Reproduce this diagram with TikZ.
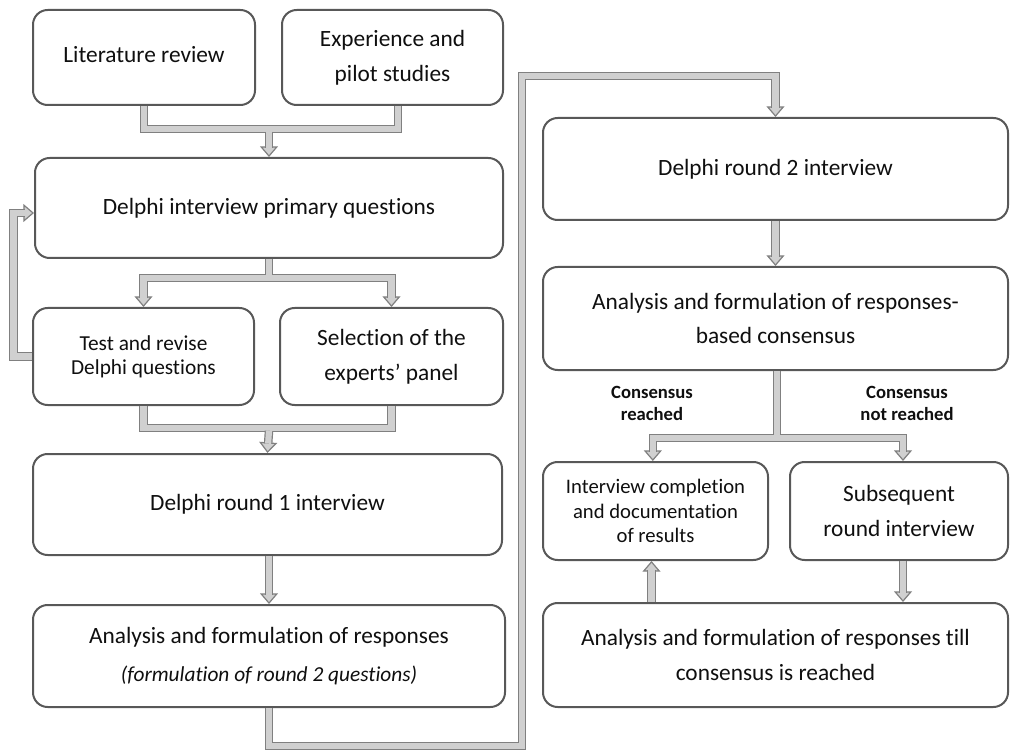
\documentclass[tikz,border=0pt]{standalone}
\usepackage{fontspec}
\setmainfont{Carlito}[Ligatures={NoCommon}]
\usetikzlibrary{arrows.meta,calc}
\definecolor{boxline}{RGB}{88,88,88}
\definecolor{connfill}{RGB}{208,208,208}
\definecolor{connline}{RGB}{128,128,128}
\definecolor{txt}{RGB}{15,15,15}
\newcommand{\flowarrow}[1]{\draw[headst] #1; \draw[conn,shorten >=7pt] #1;}
\begin{document}
\begin{tikzpicture}[x=0.75pt,y=-0.75pt,
  box/.style={draw=boxline,line width=1.5pt,rounded corners=11pt,fill=white,align=center,text=txt,inner sep=0pt,font=\fontsize{17.5}{26}\selectfont},
  conn/.style={draw=connline,line width=0.9pt,double=connfill,double distance=4.6pt,line join=miter},
  headst/.style={draw=connline,line width=0.9pt,-{Triangle[width=13.5pt,length=8pt,fill=connfill]}},
  lbl/.style={align=center,text=txt,font=\bfseries\fontsize{14}{16.5}\selectfont}]
\useasboundingbox (0,0) rectangle (1014,752);

% boxes
\node[box,minimum width=166.5pt,minimum height=71.25pt] (b1) at (144,57.5) {\raisebox{4pt}{Literature review}};
\node[box,minimum width=165.75pt,minimum height=71.25pt] (b2) at (392.5,57.5) {Experience and\\pilot studies};
\node[box,minimum width=351pt,minimum height=75pt] (b3) at (269,208) {Delphi interview primary questions};
\node[box,minimum width=165.75pt,minimum height=72.75pt,font=\fontsize{16}{18}\selectfont] (b4) at (143.5,356.5) {Test and revise\\Delphi questions};
\node[box,minimum width=167.25pt,minimum height=72.75pt] (b5) at (391.5,356.5) {Selection of the\\experts' panel};
\node[box,minimum width=351.75pt,minimum height=75.75pt] (b6) at (267.5,504.5) {Delphi round 1 interview};
\node[box,minimum width=354pt,minimum height=76.5pt] (b7) at (269,656) {Analysis and formulation of responses\\[2.5pt]{\itshape\fontsize{16}{20}\selectfont (formulation of round 2 questions)}};
\node[box,minimum width=348.75pt,minimum height=76.5pt] (b8) at (775.5,169) {Delphi round 2 interview};
\node[box,minimum width=348.75pt,minimum height=77.25pt] (b9) at (775.5,318.5) {Analysis and formulation of responses-\\based consensus};
\node[box,minimum width=168.75pt,minimum height=73.5pt,font=\fontsize{15.5}{18.5}\selectfont] (b10) at (655.5,511) {Interview completion\\and documentation\\of results};
\node[box,minimum width=163.5pt,minimum height=73.5pt] (b11) at (899,511) {Subsequent\\round interview};
\node[box,minimum width=348.75pt,minimum height=78pt] (b12) at (775.5,655) {Analysis and formulation of responses till\\consensus is reached};

% labels
\node[lbl] (l1) at (652,403) {Consensus\\reached};
\node[lbl] (l2) at (907,403) {Consensus\\not reached};

% junction coordinates
\coordinate (j1) at (269,129);
\coordinate (j2) at (269,278);
\coordinate (j3) at (269,428);
\coordinate (j4) at (777,438);
\coordinate (c1) at (522,746);
\coordinate (c2) at (522,76);

% b1,b2 -> b3
\draw[conn] (b1.south) |- (j1) -| ([xshift=4pt]b2.south);
\flowarrow{([yshift=-2.2pt]j1) -- (b3.north)}

% loop b4 -> b3
\flowarrow{(b4.west) -- ++(-18.5,0) |- ([yshift=-3.75pt]b3.west)}

% b3 -> b4, b5
\flowarrow{(j2) -| (b4.north)}
\flowarrow{(j2) -| (b5.north)}
\draw[conn] (b3.south) -- ([yshift=2.2pt]j2);

% b4,b5 -> b6
\draw[conn] (b4.south) |- (j3) -| (b5.south);
\flowarrow{([yshift=-2.2pt]j3) -- (b6.north)}

% b6 -> b7
\flowarrow{(b6.south -| j3) -- (b7.north -| j3)}

% b7 -> b8
\flowarrow{(b7.south) |- (c1) -- (c2) -| (b8.north)}

% b8 -> b9
\flowarrow{(b8.south) -- (b9.north)}

% b9 -> b10, b11
\flowarrow{(j4) -| ([xshift=-2pt]b10.north)}
\flowarrow{(j4) -| ([xshift=3pt]b11.north)}
\draw[conn] (b9.south -| j4) -- ([yshift=2.2pt]j4);

% b11 -> b12
\flowarrow{([xshift=3pt]b11.south) -- ([xshift=3pt]b11.south |- b12.north)}

% b12 -> b10
\flowarrow{([xshift=-3pt]b10.south |- b12.north) -- ([xshift=-3pt]b10.south)}
\end{tikzpicture}
\end{document}
